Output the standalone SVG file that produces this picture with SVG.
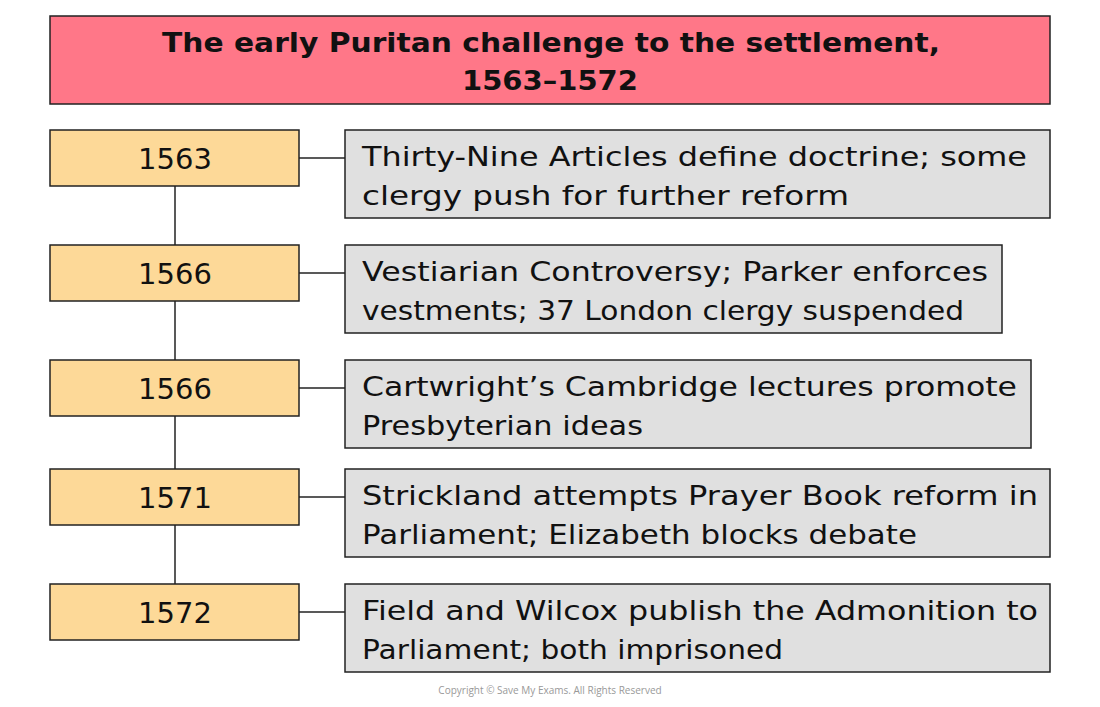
<svg xmlns="http://www.w3.org/2000/svg" width="1100" height="707" viewBox="0 0 1100 707">
<style>
.title{fill:#FF7788;stroke:#222;stroke-width:1.5}
.year{fill:#FDD998;stroke:#222;stroke-width:1.5}
.desc{fill:#E0E0E0;stroke:#222;stroke-width:1.5}
.tt{font-family:"DejaVu Sans","Liberation Sans",sans-serif;font-size:27px;fill:#111;font-weight:bold}
.yt{font-family:"DejaVu Sans","Liberation Sans",sans-serif;font-size:29px;fill:#111;text-anchor:middle}
.dt{font-family:"DejaVu Sans","Liberation Sans",sans-serif;font-size:27px;fill:#111}
.conn{stroke:#222;stroke-width:1.5;fill:none}
.copy{font-family:"Open Sans","Liberation Sans",sans-serif;font-size:10px;fill:#999;text-anchor:middle}
</style>
<rect width="1100" height="707" fill="#fff"/>
<g id="connectors">
<line class="conn" x1="175" y1="186" x2="175" y2="245"/>
<line class="conn" x1="175" y1="301" x2="175" y2="360"/>
<line class="conn" x1="175" y1="416" x2="175" y2="469"/>
<line class="conn" x1="175" y1="525" x2="175" y2="584"/>
<line class="conn" x1="299" y1="158" x2="345" y2="158"/>
<line class="conn" x1="299" y1="273" x2="345" y2="273"/>
<line class="conn" x1="299" y1="388" x2="345" y2="388"/>
<line class="conn" x1="299" y1="497" x2="345" y2="497"/>
<line class="conn" x1="299" y1="612" x2="345" y2="612"/>
</g>
<g id="title">
<rect class="title" x="50" y="16" width="1000" height="88"/>
<text class="tt" x="162" y="52" textLength="778" lengthAdjust="spacingAndGlyphs">The early Puritan challenge to the settlement,</text>
<text class="tt" x="462" y="90" textLength="176" lengthAdjust="spacingAndGlyphs">1563–1572</text>
</g>
<g id="year1"><rect class="year" x="50" y="130" width="249" height="56"/><text class="yt" x="175" y="169">1563</text></g>
<g id="year2"><rect class="year" x="50" y="245" width="249" height="56"/><text class="yt" x="175" y="284">1566</text></g>
<g id="year3"><rect class="year" x="50" y="360" width="249" height="56"/><text class="yt" x="175" y="399">1566</text></g>
<g id="year4"><rect class="year" x="50" y="469" width="249" height="56"/><text class="yt" x="175" y="508">1571</text></g>
<g id="year5"><rect class="year" x="50" y="584" width="249" height="56"/><text class="yt" x="175" y="623">1572</text></g>
<g id="desc1"><rect class="desc" x="345" y="130" width="705" height="88"/>
<text class="dt" x="362" y="166" textLength="665" lengthAdjust="spacingAndGlyphs">Thirty-Nine Articles define doctrine; some</text>
<text class="dt" x="362" y="205" textLength="487" lengthAdjust="spacingAndGlyphs">clergy push for further reform</text></g>
<g id="desc2"><rect class="desc" x="345" y="245" width="657" height="88"/>
<text class="dt" x="362" y="281" textLength="626" lengthAdjust="spacingAndGlyphs">Vestiarian Controversy; Parker enforces</text>
<text class="dt" x="362" y="320" textLength="602" lengthAdjust="spacingAndGlyphs">vestments; 37 London clergy suspended</text></g>
<g id="desc3"><rect class="desc" x="345" y="360" width="686" height="88"/>
<text class="dt" x="362" y="396" textLength="655" lengthAdjust="spacingAndGlyphs">Cartwright’s Cambridge lectures promote</text>
<text class="dt" x="362" y="435" textLength="281" lengthAdjust="spacingAndGlyphs">Presbyterian ideas</text></g>
<g id="desc4"><rect class="desc" x="345" y="469" width="705" height="88"/>
<text class="dt" x="362" y="505" textLength="676" lengthAdjust="spacingAndGlyphs">Strickland attempts Prayer Book reform in</text>
<text class="dt" x="362" y="544" textLength="555" lengthAdjust="spacingAndGlyphs">Parliament; Elizabeth blocks debate</text></g>
<g id="desc5"><rect class="desc" x="345" y="584" width="705" height="88"/>
<text class="dt" x="362" y="620" textLength="676" lengthAdjust="spacingAndGlyphs">Field and Wilcox publish the Admonition to</text>
<text class="dt" x="362" y="659" textLength="421" lengthAdjust="spacingAndGlyphs">Parliament; both imprisoned</text></g>
<text class="copy" x="550" y="694">Copyright © Save My Exams. All Rights Reserved</text>
</svg>
